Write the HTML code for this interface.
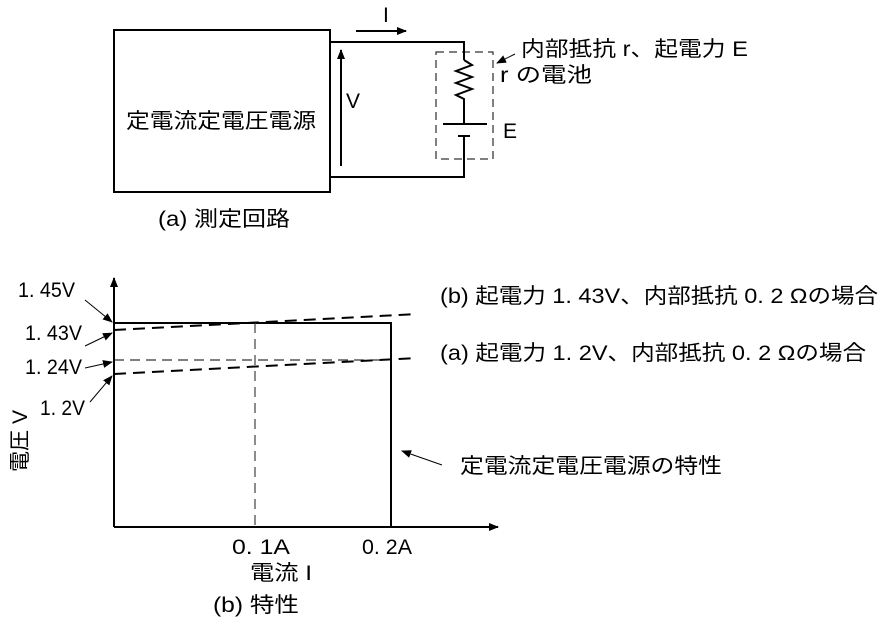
<!DOCTYPE html>
<html><head><meta charset="utf-8"><style>
body{margin:0;background:#fff;}
svg text{font-family:"Liberation Sans","Noto Sans CJK JP",sans-serif;fill:#000;}
</style></head><body>
<svg width="884" height="621" viewBox="0 0 884 621" xmlns="http://www.w3.org/2000/svg">
<defs>
<marker id="a" markerWidth="10" markerHeight="8" refX="9" refY="4" orient="auto" markerUnits="userSpaceOnUse"><path d="M0,0 L10,4 L0,8 z" fill="#000"/></marker>
</defs>
<g stroke="#000" stroke-width="2" fill="none">
<rect x="114" y="30" width="216" height="162"/>
<polyline points="330,42 464,42 464,60"/>
<polyline points="464,60 472,65 456,71 472,77 456,83 472,89 456,95 464,99 464,124"/>
<line x1="443" y1="124" x2="487" y2="124"/>
<line x1="458" y1="136" x2="470" y2="136"/>
<polyline points="464,136 464,177 330,177"/>
<line x1="341" y1="166" x2="341" y2="50" marker-end="url(#a)"/>
<line x1="356" y1="31" x2="406" y2="31" marker-end="url(#a)"/>
</g>
<rect x="436" y="52" width="57" height="107" fill="none" stroke="#000" stroke-width="1" stroke-dasharray="8,5"/>
<line x1="515" y1="54" x2="497" y2="63" stroke="#000" stroke-width="1" marker-end="url(#a)"/>
<g font-size="21" lengthAdjust="spacingAndGlyphs">
<text x="126" y="128" textLength="190" lengthAdjust="spacingAndGlyphs">定電流定電圧電源</text>
<text x="346" y="108">V</text>
<text x="383" y="22">I</text>
<text x="521" y="56" textLength="227" lengthAdjust="spacingAndGlyphs">内部抵抗 r、起電力 E</text>
<text x="500" y="82" textLength="92" lengthAdjust="spacingAndGlyphs">r の電池</text>
<text x="503" y="138">E</text>
<text x="158" y="226" textLength="132" lengthAdjust="spacingAndGlyphs">(a) 測定回路</text>
</g>

<g stroke="#000" stroke-width="2" fill="none">
<line x1="114" y1="527" x2="114" y2="278" marker-end="url(#a)"/>
<line x1="114" y1="527" x2="498" y2="527" marker-end="url(#a)"/>
<polyline points="114,323 391,323 391,527"/>
</g>
<line x1="255" y1="323" x2="255" y2="527" stroke="#666" stroke-width="1.5" stroke-dasharray="10,6"/>
<line x1="114" y1="330" x2="417" y2="314" stroke="#000" stroke-width="2" stroke-dasharray="12,7"/>
<line x1="114" y1="360" x2="391" y2="360" stroke="#000" stroke-width="1" stroke-dasharray="10,6"/>
<line x1="114" y1="374" x2="417" y2="358" stroke="#000" stroke-width="2" stroke-dasharray="12,7"/>
<g stroke="#000" stroke-width="1">
<line x1="85" y1="300" x2="112" y2="322" marker-end="url(#a)"/>
<line x1="85" y1="346" x2="112" y2="333" marker-end="url(#a)"/>
<line x1="85" y1="368" x2="112" y2="362" marker-end="url(#a)"/>
<line x1="90" y1="402" x2="112" y2="376" marker-end="url(#a)"/>
<line x1="442" y1="465" x2="402" y2="451" marker-end="url(#a)"/>
</g>
<g font-size="21">
<text x="18" y="297" textLength="57" lengthAdjust="spacingAndGlyphs">1. 45V</text>
<text x="25" y="340" textLength="57" lengthAdjust="spacingAndGlyphs">1. 43V</text>
<text x="25" y="374" textLength="57" lengthAdjust="spacingAndGlyphs">1. 24V</text>
<text x="40" y="415" textLength="45" lengthAdjust="spacingAndGlyphs">1. 2V</text>
<text transform="translate(27,472) rotate(-90)" textLength="62" lengthAdjust="spacingAndGlyphs">電圧 V</text>
<text x="232" y="554" textLength="58" lengthAdjust="spacingAndGlyphs">0. 1A</text>
<text x="362" y="554" textLength="50" lengthAdjust="spacingAndGlyphs">0. 2A</text>
<text x="250" y="580" textLength="62" lengthAdjust="spacingAndGlyphs">電流 I</text>
<text x="213" y="612" textLength="86" lengthAdjust="spacingAndGlyphs">(b) 特性</text>
<text x="440" y="303" textLength="438" lengthAdjust="spacingAndGlyphs">(b) 起電力 1. 43V、内部抵抗 0. 2 Ωの場合</text>
<text x="440" y="360" textLength="426" lengthAdjust="spacingAndGlyphs">(a) 起電力 1. 2V、内部抵抗 0. 2 Ωの場合</text>
<text x="460" y="473" textLength="262" lengthAdjust="spacingAndGlyphs">定電流定電圧電源の特性</text>
</g>
</svg>
</body></html>
